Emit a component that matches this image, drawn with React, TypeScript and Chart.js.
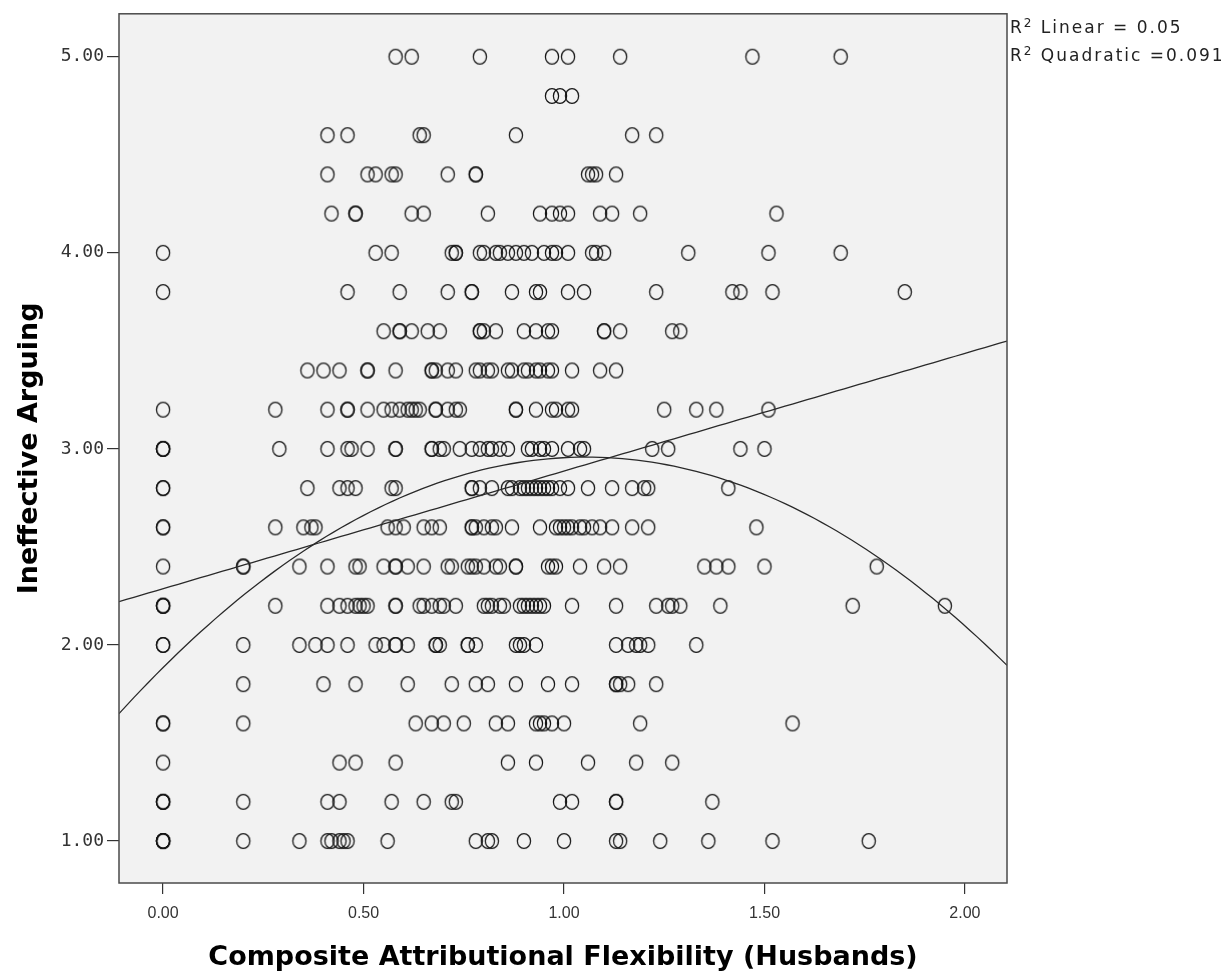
import React, { useEffect, useRef } from 'react';
import { Chart, registerables } from 'chart.js';

Chart.register(...registerables);

// ---- Data ----
const Y_LEVELS = [5.0, 4.8, 4.6, 4.4, 4.2, 4.0, 3.8, 3.6, 3.4, 3.2, 3.0, 2.8, 2.6, 2.4, 2.2, 2.0, 1.8, 1.6, 1.4, 1.2, 1.0];

const X_AT_5_0 = [0.58, 0.62, 0.79, 0.97, 1.01, 1.14, 1.47, 1.69];
const X_AT_4_8 = [0.97, 0.99, 1.02];
const X_AT_4_6 = [0.41, 0.46, 0.64, 0.65, 0.88, 1.17, 1.23];
const X_AT_4_4 = [0.41, 0.51, 0.53, 0.57, 0.58, 0.71, 0.78, 0.78, 1.06, 1.07, 1.08, 1.13];
const X_AT_4_2 = [0.42, 0.48, 0.48, 0.62, 0.65, 0.81, 0.94, 0.97, 0.99, 1.01, 1.09, 1.12, 1.19, 1.53];
const X_AT_4_0 = [0, 0.53, 0.57, 0.72, 0.73, 0.73, 0.79, 0.8, 0.83, 0.84, 0.86, 0.88, 0.9, 0.92, 0.95, 0.97, 0.98, 1.01, 1.07, 1.08, 1.1, 1.31, 1.51, 1.69];
const X_AT_3_8 = [0, 0.46, 0.59, 0.71, 0.77, 0.77, 0.87, 0.93, 0.94, 1.01, 1.05, 1.23, 1.42, 1.44, 1.52, 1.85];
const X_AT_3_6 = [0.55, 0.59, 0.59, 0.62, 0.66, 0.69, 0.79, 0.79, 0.8, 0.83, 0.9, 0.93, 0.96, 0.97, 1.1, 1.1, 1.14, 1.27, 1.29];
const X_AT_3_4 = [0.36, 0.4, 0.44, 0.51, 0.51, 0.58, 0.67, 0.67, 0.68, 0.71, 0.73, 0.78, 0.79, 0.81, 0.82, 0.86, 0.87, 0.9, 0.91, 0.93, 0.94, 0.96, 0.97, 1.02, 1.09, 1.13];
const X_AT_3_2 = [0, 0.28, 0.41, 0.46, 0.46, 0.51, 0.55, 0.57, 0.59, 0.61, 0.62, 0.63, 0.64, 0.68, 0.68, 0.71, 0.73, 0.74, 0.88, 0.88, 0.93, 0.97, 0.98, 1.01, 1.02, 1.25, 1.33, 1.38, 1.51];
const X_AT_3_0 = [0, 0, 0, 0.29, 0.41, 0.46, 0.47, 0.51, 0.58, 0.58, 0.67, 0.67, 0.69, 0.7, 0.74, 0.77, 0.79, 0.81, 0.82, 0.84, 0.86, 0.91, 0.92, 0.94, 0.95, 0.97, 1.01, 1.04, 1.05, 1.22, 1.26, 1.44, 1.5];
const X_AT_2_8 = [0, 0, 0.36, 0.44, 0.46, 0.48, 0.57, 0.58, 0.77, 0.77, 0.79, 0.82, 0.86, 0.87, 0.89, 0.9, 0.91, 0.92, 0.93, 0.94, 0.95, 0.96, 0.97, 0.99, 1.01, 1.06, 1.12, 1.17, 1.2, 1.21, 1.41];
const X_AT_2_6 = [0, 0, 0.28, 0.35, 0.37, 0.38, 0.56, 0.58, 0.6, 0.65, 0.67, 0.69, 0.77, 0.77, 0.78, 0.8, 0.82, 0.83, 0.87, 0.94, 0.98, 0.99, 1.0, 1.01, 1.02, 1.04, 1.05, 1.07, 1.09, 1.12, 1.17, 1.21, 1.48];
const X_AT_2_4 = [0, 0.2, 0.2, 0.34, 0.41, 0.48, 0.49, 0.55, 0.58, 0.58, 0.61, 0.65, 0.71, 0.72, 0.76, 0.77, 0.78, 0.8, 0.83, 0.84, 0.88, 0.88, 0.96, 0.97, 0.98, 1.04, 1.1, 1.14, 1.35, 1.38, 1.41, 1.5, 1.78];
const X_AT_2_2 = [0, 0, 0, 0.28, 0.41, 0.44, 0.46, 0.48, 0.49, 0.5, 0.51, 0.58, 0.58, 0.64, 0.65, 0.67, 0.69, 0.7, 0.73, 0.8, 0.81, 0.82, 0.84, 0.85, 0.89, 0.9, 0.91, 0.92, 0.93, 0.94, 0.95, 1.02, 1.13, 1.23, 1.26, 1.27, 1.29, 1.39, 1.72, 1.95];
const X_AT_2_0 = [0, 0, 0.2, 0.34, 0.38, 0.41, 0.46, 0.53, 0.55, 0.58, 0.58, 0.61, 0.68, 0.68, 0.69, 0.76, 0.76, 0.78, 0.88, 0.89, 0.9, 0.93, 1.13, 1.16, 1.18, 1.19, 1.21, 1.33];
const X_AT_1_8 = [0.2, 0.4, 0.48, 0.61, 0.72, 0.78, 0.81, 0.88, 0.96, 1.02, 1.13, 1.13, 1.14, 1.16, 1.23];
const X_AT_1_6 = [0, 0, 0.2, 0.63, 0.67, 0.7, 0.75, 0.83, 0.86, 0.93, 0.94, 0.95, 0.97, 1.0, 1.19, 1.57];
const X_AT_1_4 = [0, 0.44, 0.48, 0.58, 0.86, 0.93, 1.06, 1.18, 1.27];
const X_AT_1_2 = [0, 0, 0, 0.2, 0.41, 0.44, 0.57, 0.65, 0.72, 0.73, 0.99, 1.02, 1.13, 1.13, 1.37];
const X_AT_1_0 = [0, 0, 0, 0, 0.2, 0.34, 0.41, 0.42, 0.44, 0.45, 0.46, 0.56, 0.78, 0.81, 0.82, 0.9, 1.0, 1.13, 1.14, 1.24, 1.36, 1.52, 1.76];

const X_BY_LEVEL = [
  X_AT_5_0, X_AT_4_8, X_AT_4_6, X_AT_4_4, X_AT_4_2, X_AT_4_0, X_AT_3_8, X_AT_3_6, X_AT_3_4,
  X_AT_3_2, X_AT_3_0, X_AT_2_8, X_AT_2_6, X_AT_2_4, X_AT_2_2, X_AT_2_0, X_AT_1_8, X_AT_1_6,
  X_AT_1_4, X_AT_1_2, X_AT_1_0,
];

const X_TICKS = [0, 0.5, 1, 1.5, 2];
const Y_TICKS = [1, 2, 3, 4, 5];
const X_RANGE = [-0.11, 2.105];
const Y_RANGE = [0.786, 5.219];

// fit coefficients (intercept, slope[, quadratic term])
const LINEAR_FIT = [2.287, 0.6];
const QUADRATIC_FIT = [1.885, 2.0337, -0.9637];
const FIT_LABELS = ['Linear = 0.05', 'Quadratic =0.091'];

const X_TITLE = 'Composite Attributional Flexibility (Husbands)';
const Y_TITLE = 'Ineffective Arguing';

function makeRing(): HTMLCanvasElement {
  const c = document.createElement('canvas');
  c.width = 18;
  c.height = 20;
  const ctx = c.getContext('2d')!;
  ctx.strokeStyle = '#151515';
  ctx.lineWidth = 1.25;
  ctx.beginPath();
  ctx.ellipse(9, 10, 6.6, 7.4, 0, 0, Math.PI * 2);
  ctx.stroke();
  return c;
}

function curve(coefs: number[]) {
  const pts: { x: number; y: number }[] = [];
  const n = 120;
  for (let i = 0; i <= n; i++) {
    const x = X_RANGE[0] + ((X_RANGE[1] - X_RANGE[0]) * i) / n;
    let y = 0;
    coefs.forEach((c, k) => {
      y += c * Math.pow(x, k);
    });
    pts.push({ x, y });
  }
  return pts;
}

const framePlugin = {
  id: 'frame',
  beforeDraw(chart: any) {
    const { ctx, chartArea: a } = chart;
    ctx.save();
    ctx.fillStyle = '#ffffff';
    ctx.fillRect(0, 0, chart.width, chart.height);
    ctx.fillStyle = '#f2f2f2';
    ctx.fillRect(a.left, a.top, a.right - a.left, a.bottom - a.top);
    ctx.restore();
  },
  afterDraw(chart: any) {
    const { ctx, chartArea: a } = chart;
    ctx.save();
    ctx.strokeStyle = '#4a4a4a';
    ctx.lineWidth = 1.5;
    ctx.strokeRect(a.left, a.top, a.right - a.left, a.bottom - a.top);
    ctx.restore();
  },
};

export default function App() {
  const ref = useRef<HTMLCanvasElement>(null);

  useEffect(() => {
    if (!ref.current) return;
    const ring = makeRing();
    const points: { x: number; y: number }[] = [];
    Y_LEVELS.forEach((y, i) => {
      X_BY_LEVEL[i].forEach((x) => points.push({ x, y }));
    });

    const chart = new Chart(ref.current, {
      type: 'scatter',
      data: {
        datasets: [
          {
            data: curve(LINEAR_FIT),
            showLine: true,
            borderColor: '#2a2a2a',
            borderWidth: 1.3,
            pointRadius: 0,
            tension: 0,
          },
          {
            data: curve(QUADRATIC_FIT),
            showLine: true,
            borderColor: '#2a2a2a',
            borderWidth: 1.3,
            pointRadius: 0,
            tension: 0,
          },
          {
            data: points,
            pointStyle: ring,
            pointRadius: 6,
            showLine: false,
          },
        ],
      },
      options: {
        animation: false,
        responsive: false,
        layout: { padding: { left: 0, right: 223, top: 12, bottom: 0 } },
        plugins: { legend: { display: false }, tooltip: { enabled: false } },
        scales: {
          x: {
            type: 'linear',
            min: X_RANGE[0],
            max: X_RANGE[1],
            afterBuildTicks: (s: any) => {
              s.ticks = X_TICKS.map((v) => ({ value: v }));
            },
            afterFit: (s: any) => {
              s.height = 91;
            },
            grid: { drawOnChartArea: false, drawTicks: true, tickLength: 11, color: '#333333', lineWidth: 1.2 },
            border: { display: false },
            ticks: {
              font: { family: 'Liberation Sans', size: 16 },
              color: '#333333',
              padding: 10,
              maxRotation: 0,
              autoSkip: false,
              callback: (v: any) => Number(v).toFixed(2),
            },
            title: {
              display: true,
              text: X_TITLE,
              font: { family: 'DejaVu Sans', size: 27, weight: 'bold', lineHeight: 1.2 },
              color: '#000000',
              padding: { top: 0, bottom: 0 },
            },
          },
          y: {
            type: 'linear',
            min: Y_RANGE[0],
            max: Y_RANGE[1],
            afterBuildTicks: (s: any) => {
              s.ticks = Y_TICKS.map((v) => ({ value: v }));
            },
            afterFit: (s: any) => {
              s.width = 119;
            },
            grid: { drawOnChartArea: false, drawTicks: true, tickLength: 12, color: '#333333', lineWidth: 1.2 },
            border: { display: false },
            ticks: {
              font: { family: 'DejaVu Sans Mono', size: 18 },
              color: '#333333',
              padding: 3,
              autoSkip: false,
              callback: (v: any) => Number(v).toFixed(2),
            },
            title: {
              display: true,
              text: Y_TITLE,
              font: { family: 'DejaVu Sans', size: 27, weight: 'bold', lineHeight: 1.2 },
              color: '#000000',
              padding: { top: 14, bottom: 0 },
            },
          },
        },
      },
      plugins: [framePlugin],
    });
    return () => chart.destroy();
  }, []);

  const legendStyle: React.CSSProperties = {
    position: 'absolute',
    left: 1010,
    fontFamily: 'DejaVu Sans',
    fontSize: 17,
    letterSpacing: '2px',
    color: '#222',
    whiteSpace: 'nowrap',
    lineHeight: '20px',
  };

  return (
    <div style={{ position: 'absolute', left: 0, top: 0, width: 1230, height: 974, background: '#fff' }}>
      <canvas ref={ref} width={1230} height={974} style={{ display: 'block', width: 1230, height: 974 }} />
      <div style={{ ...legendStyle, top: 17 }}>
        R<sup style={{ fontSize: 12, verticalAlign: 6, lineHeight: 0 }}>2</sup> {FIT_LABELS[0]}
      </div>
      <div style={{ ...legendStyle, top: 45 }}>
        R<sup style={{ fontSize: 12, verticalAlign: 6, lineHeight: 0 }}>2</sup> {FIT_LABELS[1]}
      </div>
    </div>
  );
}
